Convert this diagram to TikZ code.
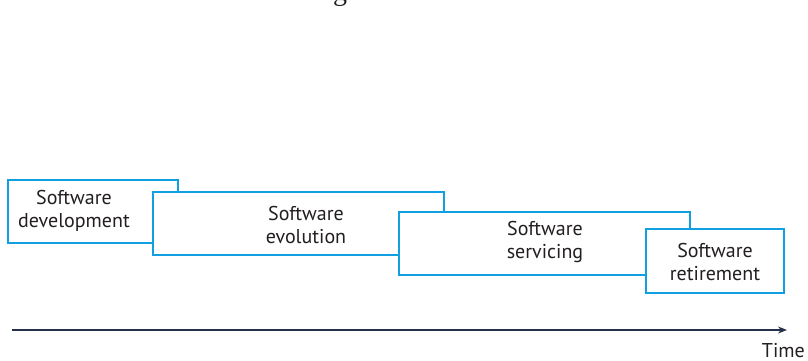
\documentclass[tikz,border=0pt]{standalone}
\usepackage{fontspec}
\setmainfont{PT Sans}
\newfontfamily\titlefont{Liberation Serif}
\usetikzlibrary{arrows.meta}
\definecolor{boxblue}{RGB}{16,160,226}
\definecolor{inkgray}{RGB}{35,31,32}
\definecolor{axisnavy}{RGB}{38,48,74}
\tikzset{
  phase/.style={draw=boxblue, line width=2pt, fill=white, rectangle, inner sep=0pt},
  phaselabel/.style={text=inkgray, align=center, inner sep=0pt,
    font=\fontsize{20}{23}\selectfont},
  timeaxis/.style={draw=axisnavy, line width=1.3pt, -{Stealth[length=9pt,width=7pt]}}
}
\begin{document}
\begin{tikzpicture}[x=1pt,y=-1pt]
\useasboundingbox (0,0) rectangle (808,361);
% clipped title descender at the top edge
\node[anchor=base, inner sep=0pt, text=inkgray, font=\titlefont\fontsize{28}{30}\selectfont] (titlefrag) at (340,1) {g};
% overlapping phase boxes, each drawn over the previous one
\node[phase, minimum width=170pt, minimum height=63pt] (dev) at (93,211.5) {};
\node[phase, minimum width=291pt, minimum height=63pt] (evo) at (298.5,223.5) {};
\node[phase, minimum width=291pt, minimum height=63pt] (serv) at (544.5,243) {};
\node[phase, minimum width=138pt, minimum height=64pt] (ret) at (715,261) {};
% phase labels
\node[phaselabel] (devtxt) at (74,211) {Software\\development};
\node[phaselabel] (evotxt) at (306,225) {Software\\evolution};
\node[phaselabel] (servtxt) at (545,242) {Software\\servicing};
\node[phaselabel] (rettxt) at (715,262) {Software\\retirement};
% time axis
\coordinate (t0) at (12,330);
\coordinate (t1) at (787,330);
\draw[timeaxis] (t0) -- (t1);
\node[anchor=base east, inner sep=0pt, text=inkgray, font=\fontsize{20}{23}\selectfont] (timelbl) at (805,357) {Time};
\end{tikzpicture}
\end{document}
